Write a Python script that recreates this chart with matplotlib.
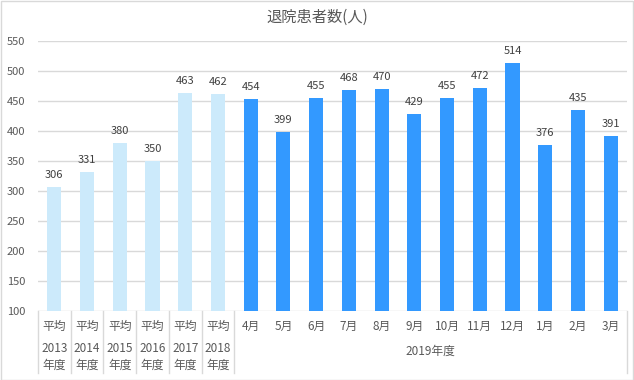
import matplotlib
matplotlib.use('Agg')
import matplotlib.pyplot as plt
from matplotlib.patches import Rectangle
from matplotlib.transforms import blended_transform_factory

plt.rcParams['font.family'] = ['Noto Sans CJK JP', 'DejaVu Sans']

title = '退院患者数(人)'
avg_years = ['2013', '2014', '2015', '2016', '2017', '2018']
avg_values = [306, 331, 380, 350, 463, 462]
months = ['4月', '5月', '6月', '7月', '8月', '9月', '10月', '11月', '12月', '1月', '2月', '3月']
month_values = [454, 399, 455, 468, 470, 429, 455, 472, 514, 376, 435, 391]
group_label = '2019年度'
y_ticks = [100, 150, 200, 250, 300, 350, 400, 450, 500, 550]

light = '#CCEAFB'
dark = '#3399FF'
grid_c = '#D9D9D9'
text_c = '#595959'
label_c = '#404040'

fig = plt.figure(figsize=(6.34, 3.8), dpi=100)
ax = fig.add_axes([38/634, 1 - 311/380, (627 - 38)/634, (311 - 41)/380])

values = avg_values + month_values
colors = [light] * len(avg_values) + [dark] * len(month_values)
xs = list(range(len(values)))
bars = ax.bar(xs, [v - 100 for v in values], bottom=100, width=0.43, color=colors, zorder=2)

for x, v in zip(xs, values):
    ax.annotate(str(v), (x, v), xytext=(0, 5), textcoords='offset points',
                ha='center', va='bottom', fontsize=8, color=label_c)

ax.set_xlim(-0.5, len(values) - 0.5)
ax.set_ylim(100, 550)
ax.set_yticks(y_ticks)
ax.tick_params(axis='y', length=0, labelsize=8, labelcolor=text_c, pad=9)
ax.set_xticks([])
ax.grid(axis='y', color=grid_c, linewidth=1, zorder=0)
for s in ax.spines.values():
    s.set_visible(False)

# multi-level category axis
tr = blended_transform_factory(ax.transData, fig.transFigure)
y_top = 1 - 311/380
y_bot = 1 - 373/380
for i in range(len(avg_values) + 1):
    ax.plot([i - 0.5, i - 0.5], [y_top, y_bot], transform=tr, color=grid_c,
            linewidth=1, clip_on=False)
ax.plot([len(values) - 0.5] * 2, [y_top, y_bot], transform=tr, color=grid_c,
        linewidth=1, clip_on=False)

for i, yr in enumerate(avg_years):
    ax.text(i, 1 - 326/380, '平均', transform=tr, ha='center', va='center',
            fontsize=8.5, color=text_c)
    ax.text(i, 1 - 349/380, yr, transform=tr, ha='center', va='center',
            fontsize=8.5, color=text_c)
    ax.text(i, 1 - 365/380, '年度', transform=tr, ha='center', va='center',
            fontsize=8.5, color=text_c)
for j, m in enumerate(months):
    ax.text(len(avg_values) + j, 1 - 326/380, m, transform=tr, ha='center',
            va='center', fontsize=8.5, color=text_c)
ax.text(len(avg_values) + (len(months) - 1) / 2, 1 - 351/380, group_label,
        transform=tr, ha='center', va='center', fontsize=8.5, color=text_c)

fig.text(0.5, 1 - 17/380, title, ha='center', va='center', fontsize=11, color=text_c)
fig.patches.append(Rectangle((0.5/634, 0.5/380), 1 - 1.5/634, 1 - 1.5/380,
                             transform=fig.transFigure, fill=False,
                             edgecolor=grid_c, linewidth=1))

fig.savefig('out.png', dpi=100)
